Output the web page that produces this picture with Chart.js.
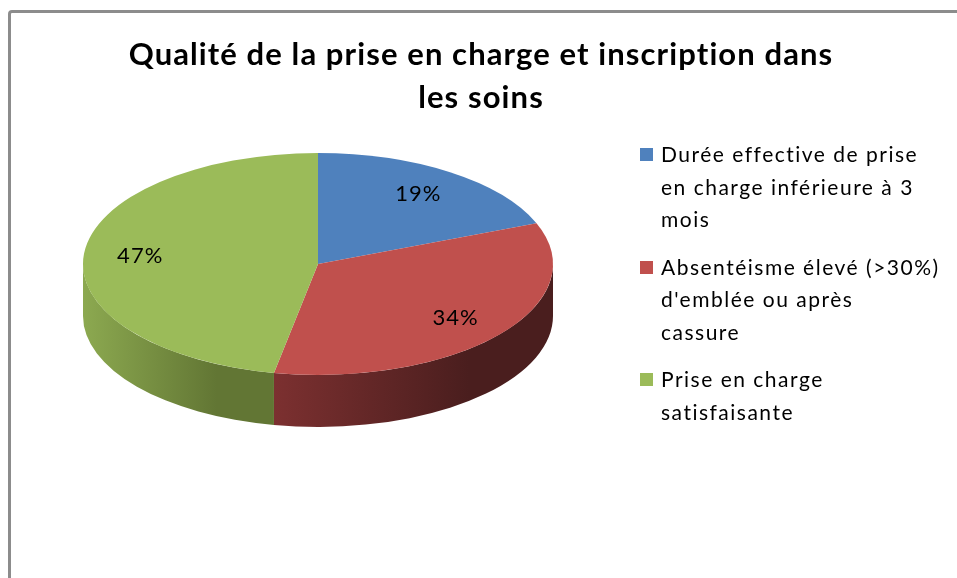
<!DOCTYPE html>
<html lang="fr">
<head>
<meta charset="utf-8">
<script src="https://cdn.jsdelivr.net/npm/chart.js@4.4.1/dist/chart.umd.min.js"></script>
<style>
  html, body { margin: 0; padding: 0; background: #fff; overflow: hidden; }
  #wrap { position: relative; width: 957px; height: 578px; }
  #cadre { position: absolute; left: 8px; top: 10px; width: 1000px; height: 700px; border: 3px solid #8c8c8c; border-radius: 4px; }
  #graphique { position: absolute; left: 0; top: 0; }
  #titre { position: absolute; left: 0; top: 32px; width: 962px; text-align: center; font-family: Lato, sans-serif; font-weight: bold; font-size: 31px; letter-spacing: 1.1px; line-height: 43px; color: #000; }
  #legende { position: absolute; left: 640px; top: 138px; font-family: Lato, sans-serif; font-size: 21px; letter-spacing: 1.5px; line-height: 32.5px; color: #000; }
  .item { position: relative; padding-left: 21px; margin-bottom: 15px; white-space: nowrap; }
  .carre { position: absolute; left: 0; top: 10px; width: 13px; height: 13px; }
</style>
</head>
<body>
<div id="wrap">
  <div id="cadre"></div>
  <canvas id="graphique" width="957" height="578"></canvas>
  <div id="titre"></div>
  <div id="legende"></div>
</div>
<script>
const titre = ["Qualité de la prise en charge et inscription dans", "les soins"];
const categories = [
  ["Durée effective de prise", "en charge inférieure à 3", "mois"],
  ["Absentéisme élevé (>30%)", "d'emblée ou après", "cassure"],
  ["Prise en charge", "satisfaisante"]
];
const valeurs = [19, 34, 47];

const couleurs = ["#4f81bd", "#c0504d", "#9bbb59"];
// couleurs du flanc (clair -> sombre)
const flancs = [["#3a5f8c", "#263f5e"], ["#7c3030", "#4a1e1e"], ["#8ca950", "#627634"]];
const inclinaison = 0.472;
const epaisseur = 52;

document.getElementById("titre").innerHTML = titre.join("<br>");

const legende = document.getElementById("legende");
categories.forEach((lignes, i) => {
  const div = document.createElement("div");
  div.className = "item";
  div.innerHTML = `<span class="carre" style="background:${couleurs[i]}"></span>${lignes.join("<br>")}`;
  legende.appendChild(div);
});

const total = valeurs.reduce((a, b) => a + b, 0);

const pie3d = {
  id: "pie3d",
  beforeDatasetsDraw(chart) {
    const ctx = chart.ctx;
    const arcs = chart.getDatasetMeta(0).data;
    const cx = arcs[0].x, cy = arcs[0].y, r = arcs[0].outerRadius;
    const ry = r * inclinaison;

    // flanc visible : angles entre 0 et PI (partie avant)
    arcs.forEach((arc, i) => {
      [0, 2 * Math.PI].forEach(dec => {
        const a = Math.max(arc.startAngle, dec);
        const b = Math.min(arc.endAngle, dec + Math.PI);
        if (b <= a) return;
        const x1 = cx + Math.cos(a) * r, x2 = cx + Math.cos(b) * r;
        const grad = ctx.createLinearGradient(Math.min(x1, x2), 0, Math.max(x1, x2), 0);
        grad.addColorStop(0, flancs[i][0]);
        grad.addColorStop(0.7, flancs[i][1]);
        grad.addColorStop(1, flancs[i][1]);
        ctx.beginPath();
        ctx.ellipse(cx, cy, r, ry, 0, a, b);
        ctx.ellipse(cx, cy + epaisseur, r, ry, 0, b, a, true);
        ctx.closePath();
        ctx.fillStyle = grad;
        ctx.fill();
      });
    });

    ctx.save();
    ctx.translate(cx, cy);
    ctx.scale(1, inclinaison);
    ctx.translate(-cx, -cy);
  },
  afterDatasetsDraw(chart) {
    const ctx = chart.ctx;
    ctx.restore();
    const arcs = chart.getDatasetMeta(0).data;
    ctx.save();
    ctx.font = "22px Lato";
    ctx.letterSpacing = "1px";
    ctx.fillStyle = "#000";
    ctx.textAlign = "center";
    ctx.textBaseline = "middle";
    arcs.forEach((arc, i) => {
      const mid = (arc.startAngle + arc.endAngle) / 2;
      const d = arc.outerRadius * 0.76;
      const x = arc.x + Math.cos(mid) * d;
      const y = arc.y + Math.sin(mid) * d * inclinaison;
      ctx.fillText(Math.round(valeurs[i] / total * 100) + "%", x, y);
    });
    ctx.restore();
  }
};

new Chart(document.getElementById("graphique"), {
  type: "pie",
  data: {
    labels: categories,
    datasets: [{
      data: valeurs,
      backgroundColor: couleurs,
      borderWidth: 0
    }]
  },
  options: {
    responsive: false,
    animation: false,
    events: [],
    layout: { padding: { left: 83, right: 404, top: 29, bottom: 79 } },
    plugins: {
      legend: { display: false },
      title: { display: false },
      tooltip: { enabled: false }
    }
  },
  plugins: [pie3d]
});
</script>
</body>
</html>
